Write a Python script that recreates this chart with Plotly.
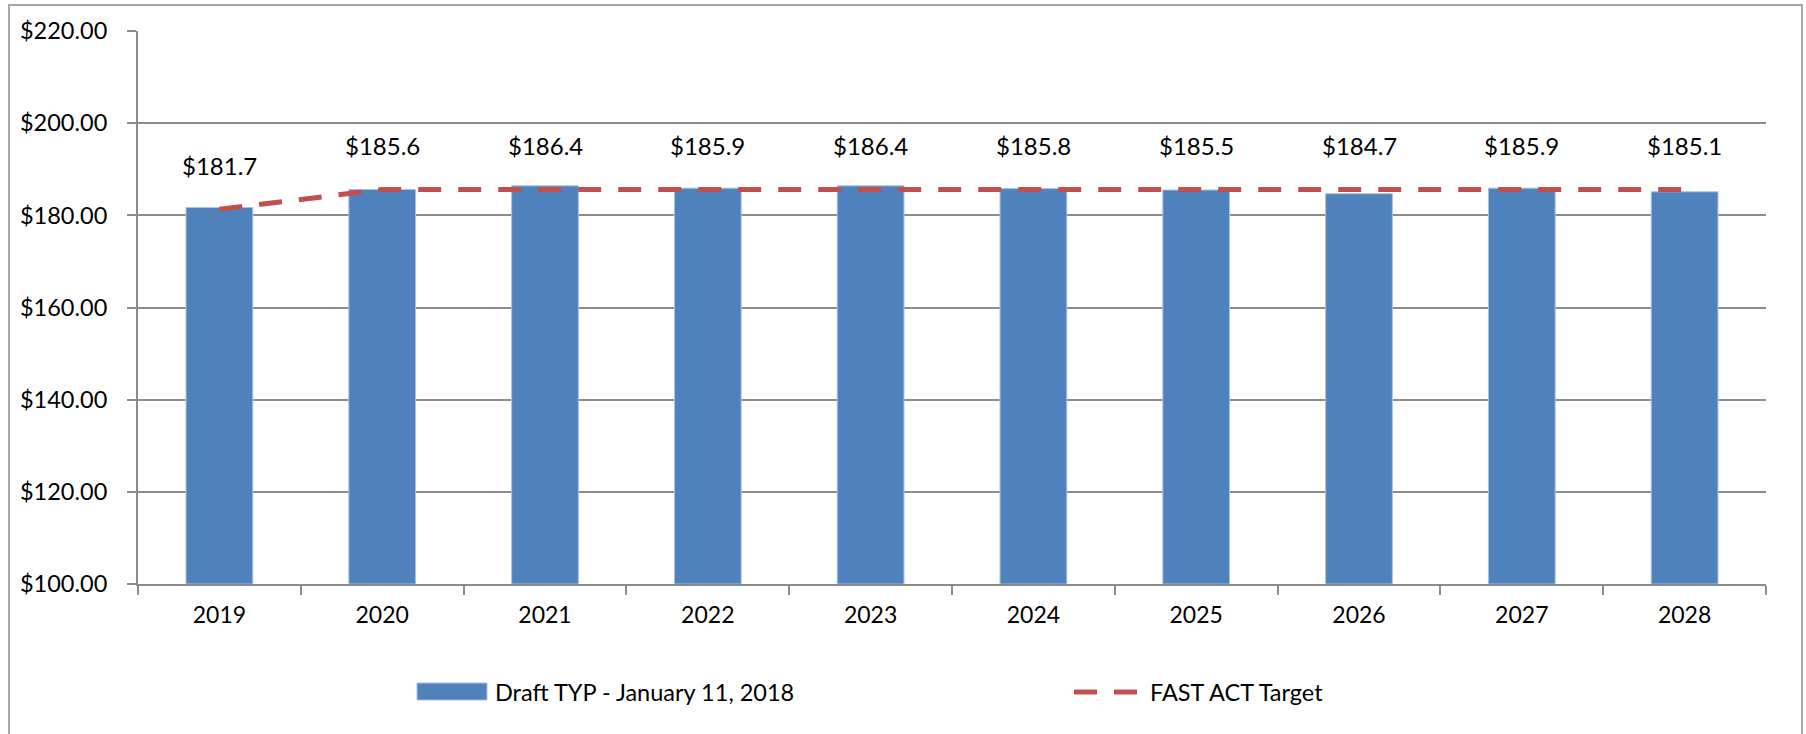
import plotly.graph_objects as go

years = ["2019", "2020", "2021", "2022", "2023", "2024", "2025", "2026", "2027", "2028"]
draft_values = [181.7, 185.6, 186.4, 185.9, 186.4, 185.8, 185.5, 184.7, 185.9, 185.1]
target_values = [181.3, 185.6, 185.6, 185.6, 185.6, 185.6, 185.6, 185.6, 185.6, 185.6]
bar_name = "Draft TYP - January 11, 2018"
line_name = "FAST ACT Target"
y_ticks = [100, 120, 140, 160, 180, 200, 220]
y_tick_labels = ["$" + f"{v:.2f}" for v in y_ticks]

W, H = 1806, 734
L, R, T, B = 138, 1766, 31, 584
FONT = "Lato, 'Open Sans', sans-serif"
BLUE = "#4F81BD"
RED = "#C0504D"
GRID = "#8C8C8C"


def px(x):
    return (x - L) / (R - L)


def py(y):
    return (B - y) / (B - T)


fig = go.Figure()
fig.add_trace(go.Bar(
    x=years, y=[v - 100 for v in draft_values], base=100, name=bar_name,
    marker=dict(color=BLUE, line=dict(color="#A9C1E0", width=1)),
    width=0.41, showlegend=False, hoverinfo="skip",
))
fig.add_trace(go.Scatter(
    x=years, y=target_values, name=line_name, mode="lines",
    line=dict(color=RED, width=5, dash="23px,17px"),
    showlegend=False, hoverinfo="skip",
))

annotations = []
for i, (v, t) in enumerate(zip(draft_values, target_values)):
    annotations.append(dict(
        x=i, y=t, xref="x", yref="y", text="$" + f"{v:.1f}", showarrow=False,
        yshift=44, yanchor="middle", xanchor="center",
        font=dict(family=FONT, size=24, color="#000000"),
    ))

# legend (custom, to match the wide swatches)
annotations.append(dict(
    x=px(493), y=py(692), xref="paper", yref="paper", text=bar_name,
    showarrow=False, xanchor="left", yanchor="middle",
    font=dict(family=FONT, size=23.5, color="#000000"),
))
annotations.append(dict(
    x=px(1148), y=py(692), xref="paper", yref="paper", text=line_name,
    showarrow=False, xanchor="left", yanchor="middle",
    font=dict(family=FONT, size=23.5, color="#000000"),
))

shapes = [
    # outer chart border
    dict(type="rect", xref="paper", yref="paper",
         x0=px(9), x1=px(1802), y0=py(760), y1=py(5),
         line=dict(color="#A6A6A6", width=2), fillcolor="rgba(0,0,0,0)", layer="below"),
    # legend swatch (bar)
    dict(type="rect", xref="paper", yref="paper",
         x0=px(417), x1=px(487), y0=py(700), y1=py(683),
         line=dict(color="#A9C1E0", width=1), fillcolor=BLUE),
    # legend swatch (line)
    dict(type="line", xref="paper", yref="paper",
         x0=px(1074), x1=px(1137), y0=py(692), y1=py(692),
         line=dict(color=RED, width=5, dash="23px,17px")),
]

fig.update_layout(
    width=W, height=H,
    margin=dict(l=L, r=W - R, t=T, b=H - B, pad=0),
    paper_bgcolor="white", plot_bgcolor="white",
    font=dict(family=FONT, size=23, color="#000000"),
    bargap=0.59,
    annotations=annotations, shapes=shapes,
    showlegend=False,
)
fig.update_xaxes(
    type="category", showgrid=False, showline=True, linecolor=GRID, linewidth=2,
    ticks="outside", tickson="boundaries", ticklen=9, tickwidth=2, tickcolor=GRID,
    tickfont=dict(family=FONT, size=23, color="#000000"), ticklabelstandoff=9,
    range=[-0.5, 9.5], fixedrange=True,
)
fig.update_yaxes(
    range=[100, 220], tickvals=y_ticks, ticktext=y_tick_labels,
    showgrid=True, gridcolor=GRID, gridwidth=1.5, zeroline=False,
    showline=True, linecolor=GRID, linewidth=2,
    ticks="outside", ticklen=9, tickwidth=2, tickcolor=GRID,
    tickfont=dict(family=FONT, size=23.5, color="#000000"), ticklabelstandoff=15,
    fixedrange=True,
)

fig.write_html("out.html", config={"displayModeBar": False},
               post_script="document.body.style.margin='0';")
